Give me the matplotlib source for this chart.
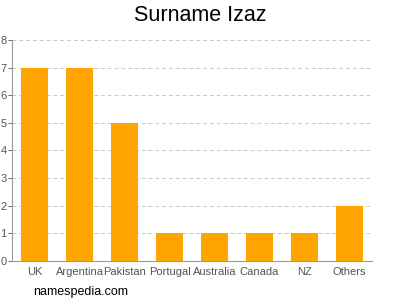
import matplotlib.pyplot as plt

plt.rcParams['font.family'] = ['Liberation Sans', 'DejaVu Sans']

countries = ['UK', 'Argentina', 'Pakistan', 'Portugal', 'Australia', 'Canada', 'NZ', 'Others']
counts = [7, 7, 5, 1, 1, 1, 1, 2]
yticks = [0, 1, 2, 3, 4, 5, 6, 7, 8]

fig = plt.figure(figsize=(4, 3), dpi=100)
ax = fig.add_axes([0.03, 0.13, 0.90, 0.737])

x = range(len(countries))
ax.bar(x, counts, width=0.62, color='#ffa500', zorder=3)

ax.set_xlim(-0.5, len(countries) - 0.5)
ax.set_ylim(0, 8)
ax.set_yticks(yticks)
ax.set_xticks(list(x))
ax.set_xticklabels(countries)
ax.tick_params(axis='both', labelsize=8, colors='#555555', length=3, width=0.6)
ax.tick_params(axis='x', length=0, pad=4)
ax.tick_params(axis='y', pad=1)

ax.grid(axis='y', color='#c8c8c8', linestyle=(0, (4, 3)), linewidth=0.7, zorder=0)
for s in ['top', 'right']:
    ax.spines[s].set_visible(False)
for s in ['left', 'bottom']:
    ax.spines[s].set_color('#999999')
    ax.spines[s].set_linewidth(0.8)

fig.text(0.5, 0.948, 'Surname Izaz', ha='center', va='center', fontsize=15.5)
fig.text(0.083, 0.027, 'namespedia.com', ha='left', va='center', fontsize=9)

fig.savefig('out.png', dpi=100)
